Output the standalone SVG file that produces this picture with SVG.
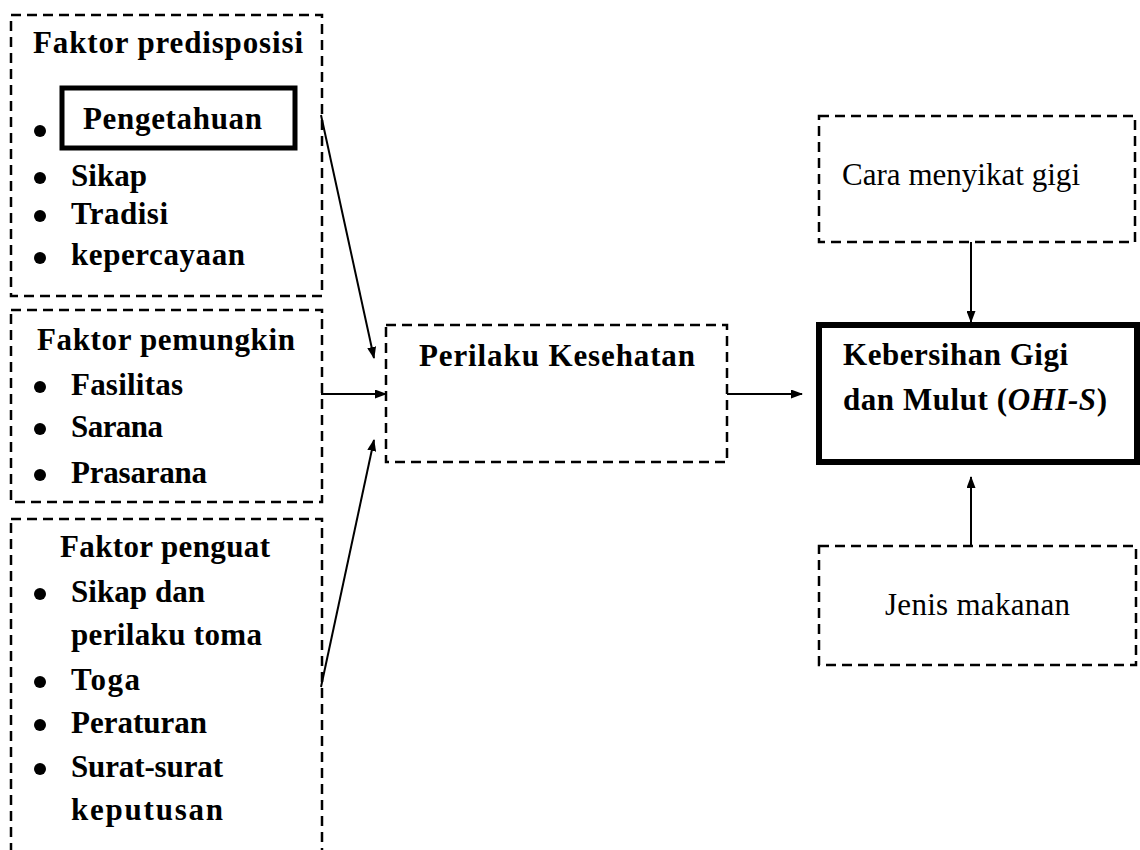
<svg xmlns="http://www.w3.org/2000/svg" width="1140" height="850" viewBox="0 0 1140 850">
<style>
.dash{fill:none;stroke:#000;stroke-width:2.5;stroke-dasharray:10 6}
.thick{fill:none;stroke:#000}
.b{font-family:"Liberation Serif","Times New Roman",serif;font-weight:bold;font-size:31px;fill:#000}
.r{font-family:"Liberation Serif","Times New Roman",serif;font-size:31px;fill:#000}
.dot{fill:#000}
.con{stroke:#000;stroke-width:2;fill:none;marker-end:url(#ah)}
</style>
<defs>
<marker id="ah" markerWidth="12" markerHeight="9" refX="11" refY="4.5" orient="auto" markerUnits="userSpaceOnUse">
<path d="M0,0 L12,4.5 L0,9 Z" fill="#000"/>
</marker>
</defs>
<rect width="1140" height="850" fill="#fff"/>
<g id="predisposisi">
<rect class="dash" x="11" y="15" width="311" height="281"/>
<text class="b" x="33" y="53" textLength="270" lengthAdjust="spacing">Faktor predisposisi</text>
<rect class="thick" stroke-width="5" x="62" y="88" width="233" height="60"/>
<circle class="dot" cx="40" cy="131" r="6"/>
<text class="b" x="83" y="129" textLength="179" lengthAdjust="spacing">Pengetahuan</text>
<circle class="dot" cx="40" cy="178" r="6"/>
<text class="b" x="71" y="186" textLength="76" lengthAdjust="spacing">Sikap</text>
<circle class="dot" cx="40" cy="216" r="6"/>
<text class="b" x="71" y="224" textLength="97" lengthAdjust="spacing">Tradisi</text>
<circle class="dot" cx="40" cy="258" r="6"/>
<text class="b" x="71" y="265" textLength="174" lengthAdjust="spacing">kepercayaan</text>
</g>
<g id="pemungkin">
<rect class="dash" x="11" y="310" width="311" height="192"/>
<text class="b" x="37" y="350" textLength="258" lengthAdjust="spacing">Faktor pemungkin</text>
<circle class="dot" cx="40" cy="387" r="6"/>
<text class="b" x="71" y="395" textLength="112" lengthAdjust="spacing">Fasilitas</text>
<circle class="dot" cx="40" cy="429" r="6"/>
<text class="b" x="71" y="437" textLength="92" lengthAdjust="spacing">Sarana</text>
<circle class="dot" cx="40" cy="475" r="6"/>
<text class="b" x="71" y="483" textLength="136" lengthAdjust="spacing">Prasarana</text>
</g>
<g id="penguat">
<rect class="dash" x="11" y="519" width="311" height="360"/>
<text class="b" x="60" y="557" textLength="210" lengthAdjust="spacing">Faktor penguat</text>
<circle class="dot" cx="40" cy="594" r="6"/>
<text class="b" x="71" y="602" textLength="134" lengthAdjust="spacing">Sikap dan</text>
<text class="b" x="71" y="645" textLength="191" lengthAdjust="spacing">perilaku toma</text>
<circle class="dot" cx="40" cy="682" r="6"/>
<text class="b" x="71" y="690" textLength="69" lengthAdjust="spacing">Toga</text>
<circle class="dot" cx="40" cy="725" r="6"/>
<text class="b" x="71" y="733" textLength="136" lengthAdjust="spacing">Peraturan</text>
<circle class="dot" cx="40" cy="769" r="6"/>
<text class="b" x="71" y="777" textLength="152" lengthAdjust="spacing">Surat-surat</text>
<text class="b" x="71" y="820" textLength="152" lengthAdjust="spacing">keputusan</text>
</g>
<g id="perilaku">
<rect class="dash" x="386" y="325" width="341" height="137"/>
<text class="b" x="419" y="366" textLength="276" lengthAdjust="spacing">Perilaku Kesehatan</text>
</g>
<g id="kebersihan">
<rect class="thick" stroke-width="6" x="819" y="325" width="318" height="137"/>
<text class="b" x="843" y="365" textLength="225" lengthAdjust="spacing">Kebersihan Gigi</text>
<text class="b" x="843" y="410" textLength="264" lengthAdjust="spacing">dan Mulut (<tspan font-style="italic">OHI-S</tspan>)</text>
</g>
<g id="cara">
<rect class="dash" x="819" y="116" width="316" height="126"/>
<text class="r" x="842" y="185" textLength="238" lengthAdjust="spacing">Cara menyikat gigi</text>
</g>
<g id="jenis">
<rect class="dash" x="819" y="546" width="317" height="119"/>
<text class="r" x="885" y="615" textLength="185" lengthAdjust="spacing">Jenis makanan</text>
</g>
<g id="connectors">
<line class="con" x1="321" y1="115" x2="374" y2="358"/>
<line class="con" x1="321" y1="394" x2="386" y2="394"/>
<line class="con" x1="321" y1="687" x2="374" y2="440"/>
<line class="con" x1="727" y1="394" x2="802" y2="394"/>
<line class="con" x1="971" y1="242" x2="971" y2="322"/>
<line class="con" x1="971" y1="546" x2="971" y2="477"/>
</g>
</svg>
